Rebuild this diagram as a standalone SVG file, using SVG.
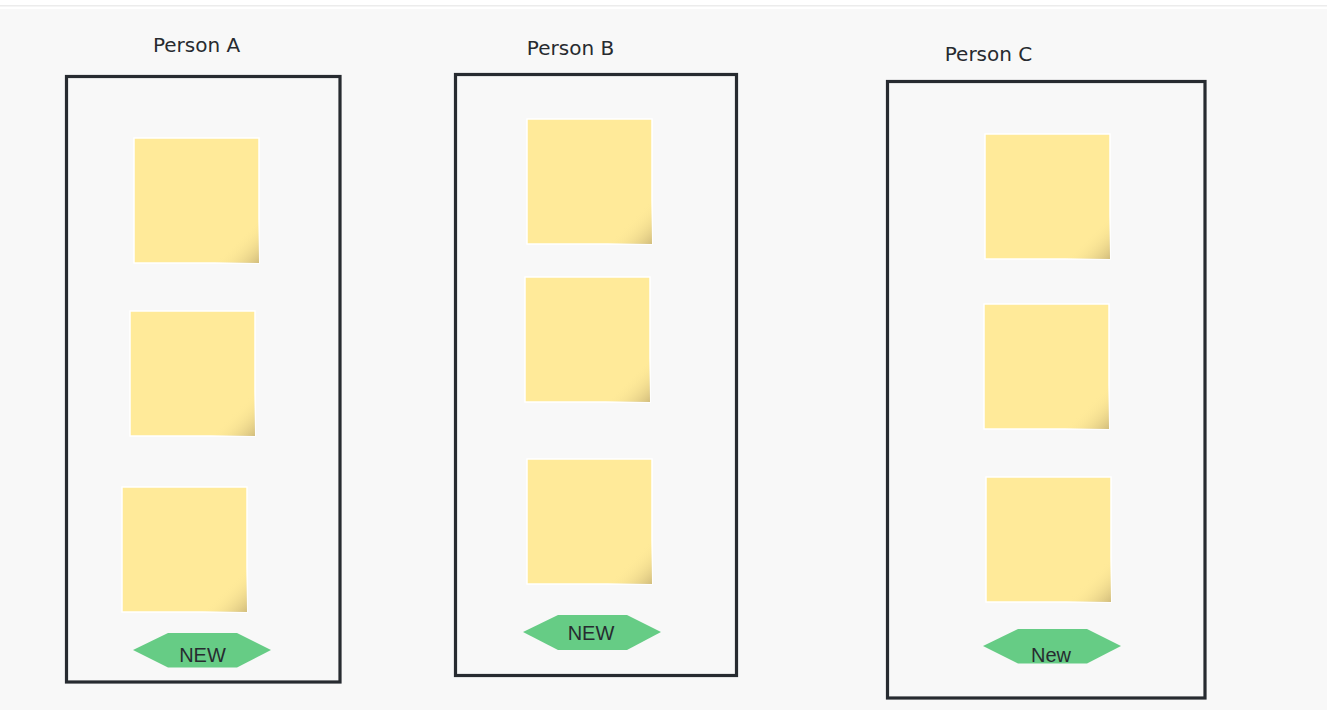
<svg xmlns="http://www.w3.org/2000/svg" width="1327" height="710" viewBox="0 0 1327 710">
<defs>
<linearGradient id="curl" x1="0" y1="0" x2="1" y2="1">
<stop offset="0" stop-color="#ffea99" stop-opacity="0"/>
<stop offset="0.82" stop-color="#ffea99" stop-opacity="0"/>
<stop offset="1" stop-color="#d2bd7c" stop-opacity="1"/>
</linearGradient>
<style>
.lane{fill:none;stroke:#272b30;stroke-width:3.2}
.title{font-family:"DejaVu Sans",sans-serif;font-size:20px;fill:#272b30;text-anchor:middle}
.note{fill:#ffea99;stroke:#ffffff;stroke-width:1.5}
.curl{fill:url(#curl)}
.hex{fill:#66cc85}
.tag{font-family:"Liberation Sans",Arial,sans-serif;font-size:20px;fill:#272b30;text-anchor:middle}
</style>
</defs>
<rect x="0" y="0" width="1327" height="710" fill="#f8f8f8"/>
<rect x="0" y="0" width="1327" height="9" fill="#ffffff"/>
<rect x="0" y="5" width="1327" height="1.5" fill="#ececec"/>

<g id="personA">
<rect class="lane" x="66.5" y="76.5" width="273.5" height="605.5"/>
<text class="title" x="196.5" y="52">Person A</text>
</g>
<g id="personB">
<rect class="lane" x="455.5" y="74.5" width="281" height="601"/>
<text class="title" x="570.5" y="55">Person B</text>
</g>
<g id="personC">
<rect class="lane" x="887.5" y="81.5" width="317.5" height="616.5"/>
<text class="title" x="988.5" y="61">Person C</text>
</g>

<g id="noteA1"><rect class="note" x="134" y="138" width="125" height="125"/><rect class="curl" x="134" y="138" width="125" height="125"/></g>
<g id="noteA2"><rect class="note" x="130" y="311" width="125" height="125"/><rect class="curl" x="130" y="311" width="125" height="125"/></g>
<g id="noteA3"><rect class="note" x="122" y="487" width="125" height="125"/><rect class="curl" x="122" y="487" width="125" height="125"/></g>
<g id="noteB1"><rect class="note" x="527" y="119" width="125" height="125"/><rect class="curl" x="527" y="119" width="125" height="125"/></g>
<g id="noteB2"><rect class="note" x="525" y="277" width="125" height="125"/><rect class="curl" x="525" y="277" width="125" height="125"/></g>
<g id="noteB3"><rect class="note" x="527" y="459" width="125" height="125"/><rect class="curl" x="527" y="459" width="125" height="125"/></g>
<g id="noteC1"><rect class="note" x="985" y="134" width="125" height="125"/><rect class="curl" x="985" y="134" width="125" height="125"/></g>
<g id="noteC2"><rect class="note" x="984" y="304" width="125" height="125"/><rect class="curl" x="984" y="304" width="125" height="125"/></g>
<g id="noteC3"><rect class="note" x="986" y="477" width="125" height="125"/><rect class="curl" x="986" y="477" width="125" height="125"/></g>

<g id="newA">
<polygon class="hex" points="133,650 168,633 237,633 271,650 237,667.5 168,667.5"/>
<text class="tag" x="202.5" y="662">NEW</text>
</g>
<g id="newB">
<polygon class="hex" points="523,632 558,615 627,615 661,632 627,650 558,650"/>
<text class="tag" x="591" y="640">NEW</text>
</g>
<g id="newC">
<polygon class="hex" points="983,646 1018,629 1087,629 1121,646 1087,663.5 1018,663.5"/>
<text class="tag" x="1051" y="662">New</text>
</g>
<g id="connectors"/>
</svg>
